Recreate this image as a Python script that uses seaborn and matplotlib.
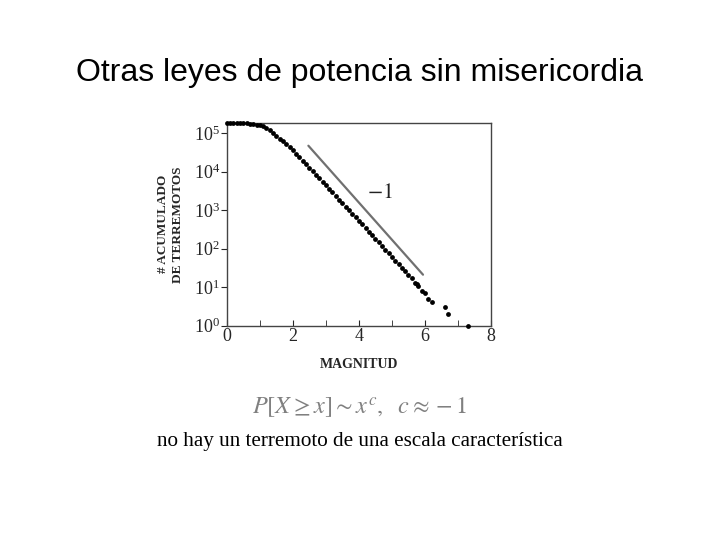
import matplotlib
matplotlib.use("Agg")
import matplotlib.pyplot as plt
import matplotlib.ticker as mticker
import seaborn as sns

# datos (magnitud vs numero acumulado de terremotos)
magnitud = [0.0, 0.1, 0.2, 0.3, 0.4, 0.5, 0.6, 0.7, 0.8, 0.9,
            1.0, 1.1, 1.2, 1.3, 1.4, 1.5, 1.6, 1.7, 1.8, 1.9,
            2.0, 2.1, 2.2, 2.3, 2.4, 2.5, 2.6, 2.7, 2.8, 2.9,
            3.0, 3.1, 3.2, 3.3, 3.4, 3.5, 3.6, 3.7, 3.8, 3.9,
            4.0, 4.1, 4.2, 4.3, 4.4, 4.5, 4.6, 4.7, 4.8, 4.9,
            5.0, 5.1, 5.2, 5.3, 5.4, 5.5, 5.6, 5.7, 5.75, 5.8,
            5.9, 6.0, 6.1, 6.2, 6.6, 6.7, 7.3]
acumulado = [182000, 182000, 182000, 182000, 181000, 180000, 178000, 176000, 172000, 166000,
             159000, 148000, 135000, 120000, 102000, 85000, 71000, 62000, 52500, 43600,
             35500, 28800, 23400, 19000, 15500, 12600, 10200, 8300, 6600, 5400,
             4400, 3550, 2900, 2300, 1860, 1510, 1230, 1000, 810, 660,
             525, 427, 347, 275, 224, 182, 145, 117, 93, 76,
             62, 49, 40, 32, 26, 21, 17, 13, 12, 11,
             8, 7, 5, 4, 3, 2, 1]

# recta de referencia con pendiente -1
ref_x = [2.47, 5.94]
ref_y = [46800, 21]

x_ticks = [0, 2, 4, 6, 8]
y_ticks = [1, 10, 100, 1000, 10000, 100000]

sns.set_style("ticks")
plt.rcParams['font.family'] = ['Liberation Serif', 'DejaVu Serif']
plt.rcParams['mathtext.fontset'] = 'stix'

fig = plt.figure(figsize=(7.2, 5.4), dpi=100)
ax = fig.add_axes([0.315, 0.397, 0.367, 0.375])

sns.scatterplot(x=magnitud, y=acumulado, ax=ax, color='black', s=12,
                linewidth=0, clip_on=False, zorder=3)
sns.lineplot(x=ref_x, y=ref_y, ax=ax, color='#707070', linewidth=1.6)

ax.set_yscale('log')
ax.set_xlim(0, 8)
ax.set_ylim(1, 10 ** 5.257)
ax.set_yticks(y_ticks)
ax.yaxis.set_major_formatter(mticker.LogFormatterMathtext())
ax.yaxis.set_minor_locator(mticker.NullLocator())
ax.set_xticks(x_ticks)
ax.set_xticks([1, 3, 5, 7], minor=True)

ax.tick_params(axis='x', which='both', direction='in', length=4, labelsize=13, pad=2)
ax.tick_params(axis='y', which='major', direction='out', length=4, labelsize=13, pad=1)
for s in ax.spines.values():
    s.set_color('#444444')
    s.set_linewidth(1.0)

ax.text(4.65, 10 ** 3.44, r'$-1$', fontsize=16, ha='center', va='center', color='#222222')

ax.set_xlabel('MAGNITUD', fontsize=10, fontweight='bold', labelpad=9)
ax.set_ylabel('# ACUMULADO\nDE TERREMOTOS', fontsize=9.5, fontweight='bold', labelpad=7,
              linespacing=1.35)

fig.text(0.5, 0.865, 'Otras leyes de potencia sin misericordia', fontsize=23,
         ha='center', va='center', color='black', family=['Liberation Sans', 'DejaVu Sans'])
fig.text(0.5, 0.245, r'$P[X \geq x] \sim x^{c},\ \ c \approx -1$', fontsize=17.5,
         ha='center', va='center', color='#808080')
fig.text(0.5, 0.183, 'no hay un terremoto de una escala característica', fontsize=15.2,
         ha='center', va='center', color='black')

fig.savefig('out.png', dpi=100)
plt.close(fig)
